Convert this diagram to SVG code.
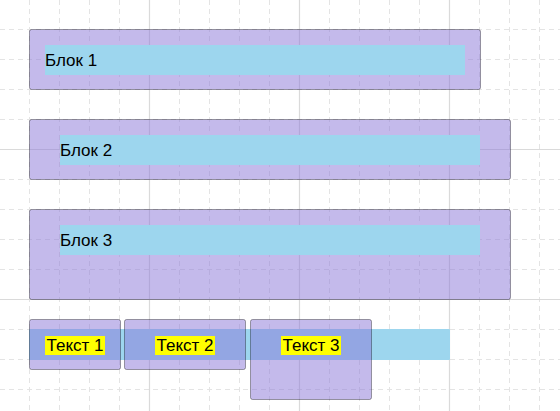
<svg xmlns="http://www.w3.org/2000/svg" width="560" height="411" viewBox="0 0 560 411">
<style>
.minor{stroke:#e4e4e4;stroke-width:1;stroke-dasharray:5 4;fill:none}
.major{stroke:#dadada;stroke-width:1.2;fill:none}
.box{fill:#8a75d8;fill-opacity:0.5;stroke:#000;stroke-opacity:0.35;stroke-width:1}
.inner{fill:#9dd6ee}
.lbl{font-family:"Liberation Sans",Arial,sans-serif;font-size:17px;fill:#000}
.mid{text-anchor:middle}
.hl{fill:#ffff00}
</style>
<rect width="560" height="411" fill="#fff"/>
<g id="grid">
<path class="minor" d="M29.5 0V411M59.5 0V411M89.5 0V411M119.5 0V411M179.5 0V411M209.5 0V411M239.5 0V411M269.5 0V411M329.5 0V411M359.5 0V411M389.5 0V411M419.5 0V411M479.5 0V411M509.5 0V411M539.5 0V411"/>
<path class="minor" d="M0 29.5H560M0 59.5H560M0 89.5H560M0 119.5H560M0 179.5H560M0 209.5H560M0 239.5H560M0 269.5H560M0 329.5H560M0 359.5H560M0 389.5H560"/>
<path class="major" d="M149.5 0V411M299.5 0V411M449.5 0V411M0 149.5H560M0 299.5H560"/>
</g>
<g id="block1">
<rect class="box" x="29.5" y="29.5" width="451" height="60" rx="2"/>
<rect class="inner" x="45" y="45" width="420" height="30"/>
<text class="lbl" x="45" y="66">Блок 1</text>
</g>
<g id="block2">
<rect class="box" x="29.5" y="119.5" width="481" height="60" rx="2"/>
<rect class="inner" x="60" y="135" width="420" height="30"/>
<text class="lbl" x="60" y="156">Блок 2</text>
</g>
<g id="block3">
<rect class="box" x="29.5" y="209.5" width="481" height="90" rx="2"/>
<rect class="inner" x="60" y="225" width="420" height="30"/>
<text class="lbl" x="60" y="246">Блок 3</text>
</g>
<g id="band">
<rect class="inner" x="29" y="329" width="421" height="31" rx="1"/>
</g>
<g id="text1">
<rect class="box" x="29.5" y="319.5" width="91" height="50" rx="2"/>
<rect class="hl" x="45" y="336" width="60" height="19"/>
<text class="lbl mid" x="75" y="351">Текст 1</text>
</g>
<g id="text2">
<rect class="box" x="124.5" y="319.5" width="121" height="50" rx="2"/>
<rect class="hl" x="155" y="336" width="60" height="19"/>
<text class="lbl mid" x="185" y="351">Текст 2</text>
</g>
<g id="text3">
<rect class="box" x="250.5" y="319.5" width="121" height="80" rx="2"/>
<rect class="hl" x="281" y="336" width="60" height="19"/>
<text class="lbl mid" x="311" y="351">Текст 3</text>
</g>
<g id="connectors"/>
</svg>
